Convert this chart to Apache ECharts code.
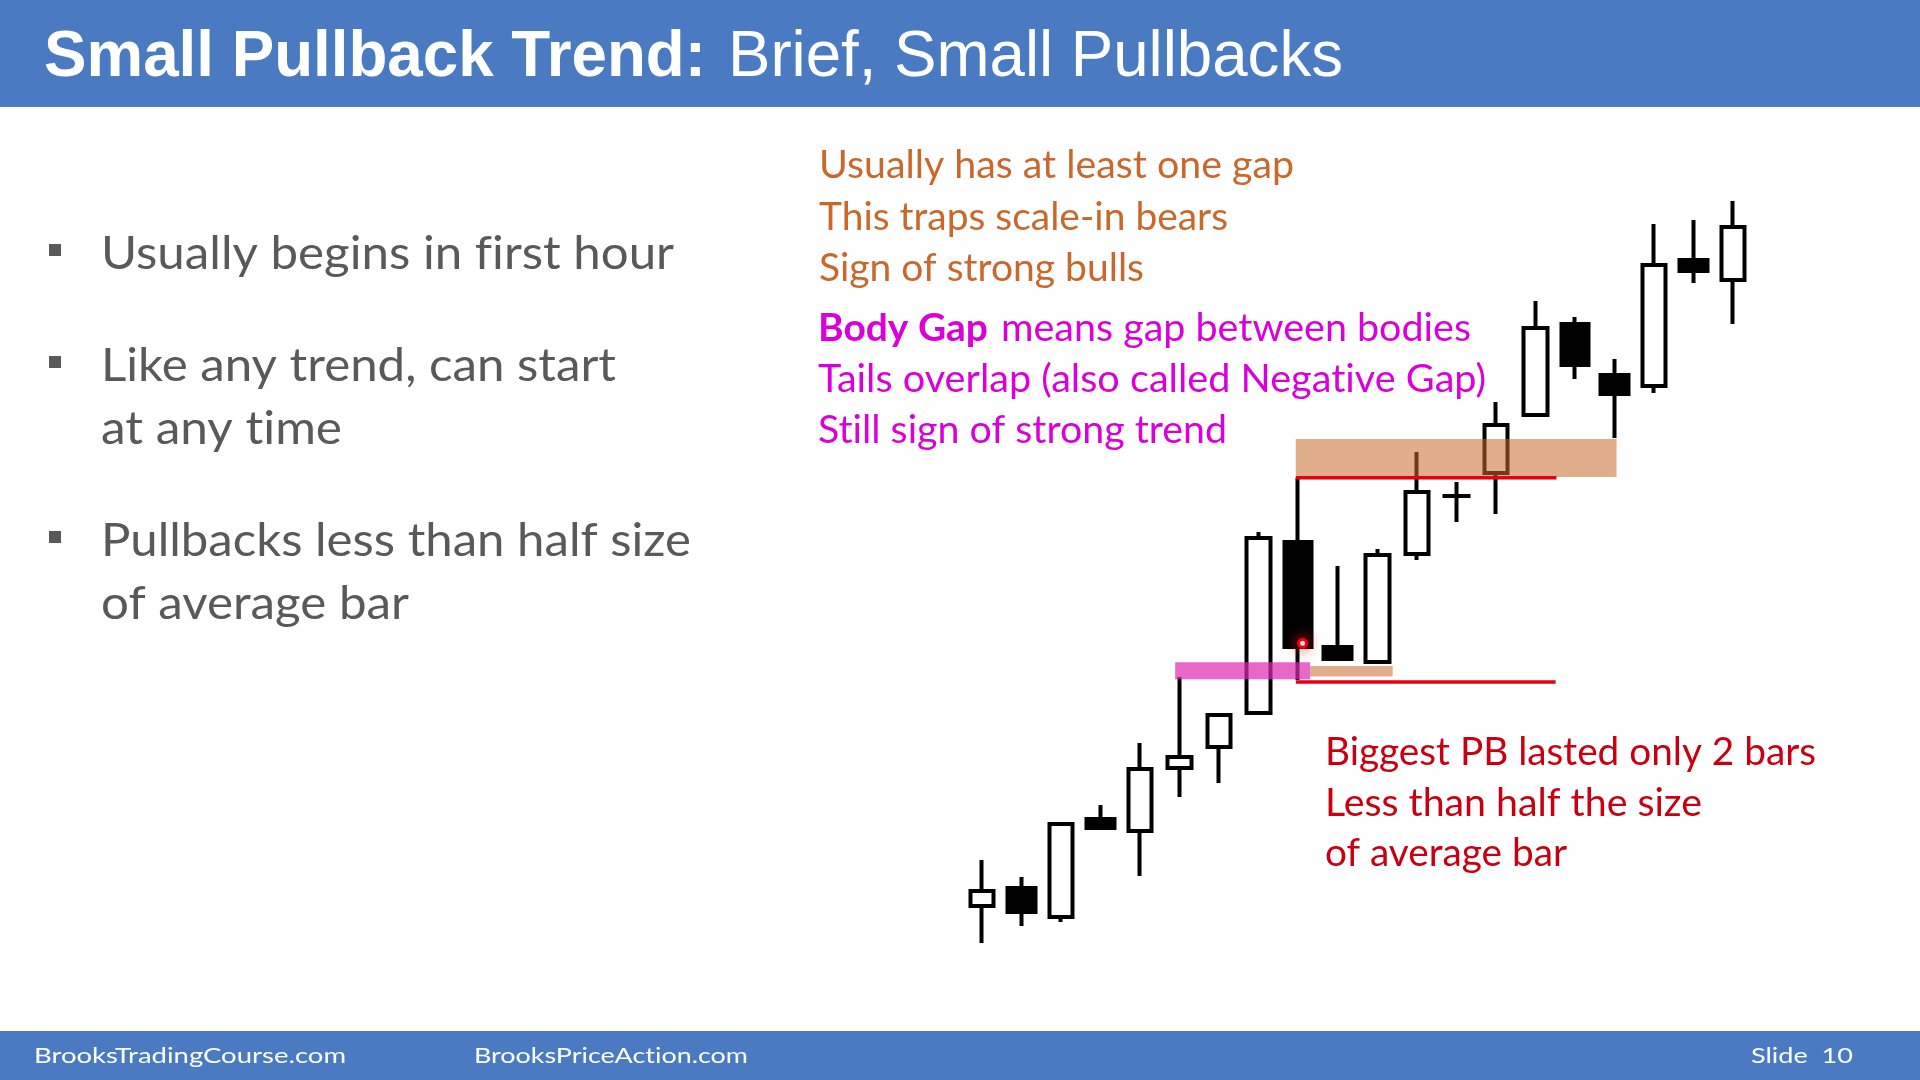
<!DOCTYPE html>
<html><head><meta charset="utf-8">
<script src="https://cdn.jsdelivr.net/npm/echarts@6/dist/echarts.min.js"></script>
<style>html,body{margin:0;padding:0;background:#fff;}#c{width:1920px;height:1080px;}</style>
</head><body><div id="c"></div>
<script>
// ---------- data ----------
const categories = ['1','2','3','4','5','6','7','8','9','10','11','12','13','14','15','16','17','18','19','20'];
const openPrices  = [4.4, 6.2, 3.3, 13.1, 11.9, 18.2, 20.3, 23.7, 40.8, 30.3, 28.8, 39.6, 45.4, 47.7, 53.5, 62.6, 57.5, 56.4, 69.0, 67.0];
const closePrices = [5.9, 3.8, 12.6, 12.2, 18.1, 19.3, 23.5, 41.2, 30.3, 29.1, 39.5, 45.8, 45.4, 52.5, 62.2, 58.5, 55.6, 68.5, 67.9, 72.3];
const lowPrices   = [0.7, 2.4, 2.8, 12.2, 7.4, 15.3, 16.7, 23.7, 27.0, 29.1, 28.8, 39.0, 42.8, 43.6, 53.5, 57.1, 51.2, 55.7, 66.7, 62.6];
const highPrices  = [9.0, 7.3, 12.6, 14.5, 20.7, 27.3, 23.6, 41.8, 47.2, 38.4, 40.1, 49.8, 46.8, 54.8, 64.9, 63.3, 59.1, 72.6, 73.0, 74.9];
// annotation zones in (bar index, price) units: [xStart, xEnd, priceLow, priceHigh]
const gapZones = [[7.94, 16.05, 47.3, 51.1], [8.30, 10.39, 27.35, 28.4]];
const bodyGapZones = [[4.89, 8.30, 27.07, 28.77]];
// red levels: [xStart, xEnd, price]
const redLevels = [[7.94, 14.53, 47.23], [7.94, 14.51, 26.8]];
// laser pointer: [x, price]
const pointerMark = [[8.11, 30.67]];

// ---------- text ----------
const titleBold = 'Small Pullback Trend:';
const titleRest = 'Brief, Small Pullbacks';
const bulletLines = ['Usually begins in first hour', 'Like any trend, can start', 'at any time', 'Pullbacks less than half size', 'of average bar'];
const orangeLines = ['Usually has at least one gap', 'This traps scale-in bears', 'Sign of strong bulls'];
const magentaBold = 'Body Gap';
const magentaLines = ['means gap between bodies', 'Tails overlap (also called Negative Gap)', 'Still sign of strong trend'];
const redLines = ['Biggest PB lasted only 2 bars', 'Less than half the size', 'of average bar'];
const footerLeft = 'BrooksTradingCourse.com';
const footerMid = 'BrooksPriceAction.com';
const footerRight = 'Slide  10';

// ---------- build ----------
const ohlc = categories.map((c, i) => [openPrices[i], closePrices[i], lowPrices[i], highPrices[i]]);
const bullData = ohlc.map(d => d[1] > d[0] ? d : '-');
const bearData = ohlc.map(d => d[1] > d[0] ? '-' : d);

const LATO = 'Lato, "Open Sans", sans-serif';
const ARIAL = '"Liberation Sans", Arial, sans-serif';
const GRAY = '#595959', ORANGE = '#C8682C', MAGENTA = '#DA00DA', DRED = '#C8000F', BLUE = '#4A7BC2';
const ZWNJ = '\u200C';

const mctx = document.createElement('canvas').getContext('2d');
function noLig(s) { return s.replace(/([ft])(?=[a-z])/g, '$1' + ZWNJ); }
function txt(str, x, x2, base, size, color, family, weight, k) {
  weight = weight || 'normal';
  const s = family === LATO ? noLig(str) : str;
  mctx.font = weight + ' ' + size + 'px ' + family;
  const mw = mctx.measureText(s).width;
  const sx = (x2 - x) / mw;
  return {
    type: 'text', x: x, y: base - k * size, scaleX: sx, z: 10, silent: true,
    style: { text: s, fill: color, fontFamily: family, fontSize: size, fontWeight: weight,
             align: 'left', verticalAlign: 'middle' }
  };
}

const graphics = [
  { type: 'rect', shape: { x: 0, y: 0, width: 1920, height: 107 }, style: { fill: BLUE }, z: 1, silent: true },
  { type: 'rect', shape: { x: 0, y: 1031, width: 1920, height: 49 }, style: { fill: BLUE }, z: 1, silent: true },
  txt(titleBold, 44, 706, 75, 64, '#fff', ARIAL, 'bold', 0.26),
  txt(titleRest, 728, 1343, 75, 64, '#fff', ARIAL, 'normal', 0.26),
  txt(footerLeft, 34, 346, 1063, 21, '#fff', LATO, 'normal', 0.33),
  txt(footerMid, 474, 748, 1063, 21, '#fff', LATO, 'normal', 0.33),
  txt(footerRight, 1751, 1853, 1063, 21, '#fff', LATO, 'normal', 0.33)
];
// bullets
const bulletBase = [269, 381, 444, 556, 619];
const bulletEnds = [674, 616, 342, 691, 409];
const bulletHas = [true, true, false, true, false];
bulletLines.forEach((s, i) => {
  graphics.push(txt(s, 101, bulletEnds[i], bulletBase[i], 46, GRAY, LATO, 'normal', 0.32));
  if (bulletHas[i]) graphics.push({ type: 'rect', shape: { x: 49, y: bulletBase[i] - 25, width: 12, height: 12 }, style: { fill: GRAY }, z: 10, silent: true });
});
const K38 = 0.285;
const orangeBase = [177, 229, 280], orangeEnds = [1294, 1228, 1144];
orangeLines.forEach((s, i) => graphics.push(txt(s, 819, orangeEnds[i], orangeBase[i], 38, ORANGE, LATO, 'normal', K38)));
graphics.push(txt(magentaBold, 818, 988, 340, 38, MAGENTA, LATO, 'bold', K38));
graphics.push(txt(magentaLines[0], 1001, 1471, 340, 38, MAGENTA, LATO, 'normal', K38));
graphics.push(txt(magentaLines[1], 818, 1486, 391, 38, MAGENTA, LATO, 'normal', K38));
graphics.push(txt(magentaLines[2], 818, 1227, 442, 38, MAGENTA, LATO, 'normal', K38));
const redBase = [764, 815, 865], redEnds = [1816, 1702, 1567];
redLines.forEach((s, i) => graphics.push(txt(s, 1325, redEnds[i], redBase[i], 38, DRED, LATO, 'normal', K38)));

const candleStyle = { color: '#ffffff', color0: '#000000', borderColor: '#000000', borderColor0: '#000000', borderColorDoji: '#000000', borderWidth: 4 };

const option = {
  animation: false,
  backgroundColor: '#ffffff',
  grid: { left: 962, top: 200, width: 791, height: 750, containLabel: false },
  xAxis: [
    { type: 'category', data: categories, show: false, boundaryGap: true },
    { type: 'value', min: -0.5, max: 19.5, show: false }
  ],
  yAxis: [{ type: 'value', min: 0, max: 75, show: false, splitLine: { show: false } }],
  tooltip: { show: false },
  graphic: graphics,
  series: [
    { type: 'candlestick', name: 'bull', xAxisIndex: 0, data: bullData, barWidth: 24, itemStyle: candleStyle, z: 2, silent: true },
    { type: 'candlestick', name: 'bear', xAxisIndex: 0, data: bearData, barWidth: 28, itemStyle: candleStyle, z: 2, silent: true },
    { type: 'custom', name: 'bodyGap', xAxisIndex: 1, data: bodyGapZones, encode: { x: [0, 1], y: [2, 3] }, z: 3, silent: true, clip: false,
      renderItem: (p, api) => {
        const a = api.coord([api.value(0), api.value(3)]), b = api.coord([api.value(1), api.value(2)]);
        return { type: 'rect', shape: { x: a[0], y: a[1], width: b[0] - a[0], height: b[1] - a[1] }, style: { fill: 'rgba(222,40,180,0.7)' } };
      } },
    { type: 'custom', name: 'gaps', xAxisIndex: 1, data: gapZones, encode: { x: [0, 1], y: [2, 3] }, z: 3, silent: true, clip: false,
      renderItem: (p, api) => {
        const a = api.coord([api.value(0), api.value(3)]), b = api.coord([api.value(1), api.value(2)]);
        return { type: 'rect', shape: { x: a[0], y: a[1], width: b[0] - a[0], height: b[1] - a[1] }, style: { fill: 'rgba(199,108,42,0.55)' } };
      } },
    { type: 'custom', name: 'levels', xAxisIndex: 1, data: redLevels, encode: { x: [0, 1], y: 2 }, z: 4, silent: true, clip: false,
      renderItem: (p, api) => {
        const a = api.coord([api.value(0), api.value(2)]), b = api.coord([api.value(1), api.value(2)]);
        return { type: 'line', shape: { x1: a[0], y1: a[1], x2: b[0], y2: b[1] }, style: { stroke: '#E60012', lineWidth: 3.5 } };
      } },
    { type: 'custom', name: 'pointer', xAxisIndex: 1, data: pointerMark, encode: { x: 0, y: 1 }, z: 5, silent: true, clip: false,
      renderItem: (p, api) => {
        const a = api.coord([api.value(0), api.value(1)]);
        return { type: 'circle', shape: { cx: a[0], cy: a[1], r: 4 },
          style: { fill: '#ffffff', stroke: '#F00010', lineWidth: 3, shadowBlur: 14, shadowColor: 'rgba(255,30,30,0.9)' } };
      } }
  ]
};
const chart = echarts.init(document.getElementById('c'), null, { width: 1920, height: 1080 });
chart.setOption(option);
</script>
</body></html>
